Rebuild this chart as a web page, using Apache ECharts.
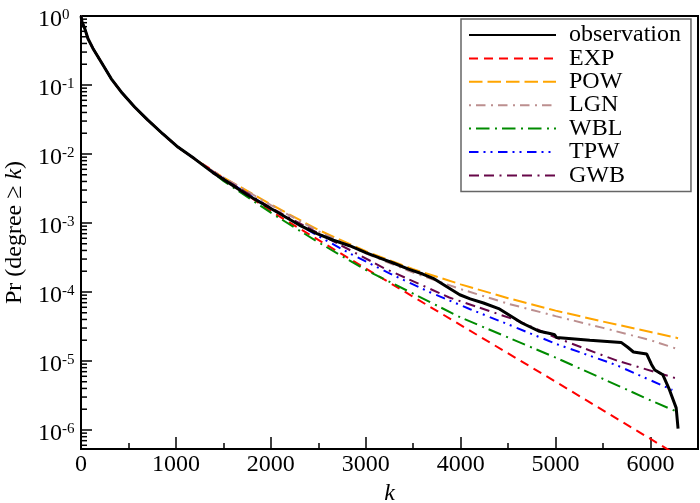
<!DOCTYPE html>
<html>
<head>
<meta charset="utf-8">
<script src="https://cdn.jsdelivr.net/npm/echarts@6/dist/echarts.min.js"></script>
<style>html,body{margin:0;padding:0;background:#fff;}#c{width:700px;height:503px;}</style>
</head>
<body>
<div id="c"></div>
<script>
// ---- data ----
const xTicks = [0, 1000, 2000, 3000, 4000, 5000, 6000];
const yTickExponents = [0, -1, -2, -3, -4, -5, -6];
const minorMultipliers = [2, 3, 4, 5, 6, 7, 8, 9];

// common head of observation and all fits (they coincide there)
const headK = [0,11,39,74,126,214,319,424,565,705,863,1021,1197];
const headP = [1,0.818,0.661,0.468,0.339,0.214,0.123,0.0794,0.0479,0.0309,0.0195,0.0126,0.00851];

const obsTailK = [1390,1570,1750,1950,2150,2300,2480,2660,2830,3000,3150,3290,3450,3600,3710,3850,3990,4100,4240,4400,4645,4830,4940,4990,5010,5360,5690,5760,5820,5960,6010,6045,6130,6200,6270,6290];
const obsTailP = [0.00537,0.00372,0.00257,0.00178,0.00123,9.33e-4,7.08e-4,5.62e-4,4.68e-4,3.72e-4,3.09e-4,2.63e-4,2.14e-4,1.82e-4,1.58e-4,1.20e-4,9.12e-5,7.94e-5,6.92e-5,5.75e-5,3.55e-5,2.69e-5,2.51e-5,2.40e-5,2.19e-5,2.00e-5,1.86e-5,1.58e-5,1.35e-5,1.26e-5,8.91e-6,7.41e-6,6.31e-6,3.80e-6,2.09e-6,1.05e-6];

const expK = [1400,1600,2000,3000,4000,5000,6000,6300];
const expP = [5.62e-3,3.55e-3,1.48e-3,2.19e-4,3.31e-5,5.01e-6,7.41e-7,4.17e-7];

const powK = [1400,2000,2500,3000,3500,4000,4500,5000,5500,6000,6290];
const powP = [5.50e-3,1.86e-3,7.94e-4,3.89e-4,2.14e-4,1.29e-4,8.13e-5,5.37e-5,3.72e-5,2.63e-5,2.14e-5];

const lgnK = [1400,2000,2500,3000,3500,4000,4500,5000,5500,6000,6290];
const lgnP = [5.50e-3,1.82e-3,7.59e-4,3.63e-4,1.91e-4,1.10e-4,6.76e-5,4.47e-5,3.02e-5,2.00e-5,1.48e-5];

const wblK = [1400,1500,2000,2500,3000,4000,5000,6000,6270];
const wblP = [5.25e-3,4.07e-3,1.41e-3,5.25e-4,2.09e-4,4.27e-5,1.12e-5,2.69e-6,1.86e-6];

const tpwK = [1400,2000,2500,2830,3250,3670,4100,4500,5000,5640,6230];
const tpwP = [5.37e-3,1.62e-3,6.46e-4,3.63e-4,1.86e-4,1.00e-4,5.62e-5,3.39e-5,1.78e-5,8.71e-6,3.80e-6];

const gwbK = [1400,2000,2500,3200,3880,4590,5000,5440,5640,6290];
const gwbP = [5.37e-3,1.66e-3,7.08e-4,2.19e-4,8.32e-5,3.89e-5,2.19e-5,1.29e-5,1.02e-5,5.50e-6];

// ---- build ----
const FONT = 'Liberation Serif';
const Y_MIN = 5.3e-7, Y_MAX = 1, X_MAX = 6500;
function withHead(ks, ps){ return headK.concat(ks).map((k, i) => [k, headP.concat(ps)[i]]); }

const minorVals = [];
for (let e = -7; e <= -1; e++) {
  minorMultipliers.forEach(m => { const v = m * Math.pow(10, e); if (v >= Y_MIN && v <= Y_MAX) minorVals.push([0, v]); });
}

function lineSeries(name, data, color, width, dash, z){
  return {
    type: 'line', name: name, data: data, symbol: 'none', showSymbol: false,
    smooth: false, clip: true, z: z,
    lineStyle: {color: color, width: width, type: dash},
    itemStyle: {color: color}, animation: false
  };
}

const chart = echarts.init(document.getElementById('c'), null, {renderer: 'canvas'});
chart.setOption({
  animation: false,
  backgroundColor: '#fff',
  grid: {left: 81, right: 2, top: 16, bottom: 54, containLabel: false, outerBoundsMode: 'none',
         show: true, borderColor: '#000', borderWidth: 2, backgroundColor: 'transparent'},
  legend: {
    data: ['observation','EXP','POW','LGN','WBL','TPW','GWB'],
    orient: 'vertical', left: 461, top: 19,
    padding: [4, 10, 4, 7],
    itemWidth: 87, itemHeight: 14, itemGap: -0.6,
    borderColor: '#666', borderWidth: 1.5, backgroundColor: '#fff',
    itemStyle: {opacity: 0},
    textStyle: {fontFamily: FONT, fontSize: 24, color: '#000', padding: [0,0,0,8]},
    selectedMode: false
  },
  xAxis: [{
    type: 'value', min: 0, max: X_MAX, interval: 1000,
    axisLine: {show: true, lineStyle: {color: '#000', width: 2}},
    axisTick: {show: true, inside: true, length: 12, lineStyle: {color: '#000', width: 1.5}},
    splitLine: {show: false},
    axisLabel: {show: true, margin: 4, fontFamily: FONT, fontSize: 24, color: '#000', showMaxLabel: false,
      formatter: v => xTicks.indexOf(v) >= 0 ? String(v) : ''},
    name: '{i|k}', nameLocation: 'middle', nameGap: 22,
    nameTextStyle: {rich: {i: {fontFamily: FONT, fontSize: 24, fontStyle: 'italic', color: '#000'}}}
  }, {
    type: 'value', min: 0, max: X_MAX, interval: 500, position: 'bottom',
    axisLine: {show: false}, axisLabel: {show: false}, splitLine: {show: false},
    axisTick: {show: true, inside: true, length: 6, lineStyle: {color: '#000', width: 1.5}}
  }],
  yAxis: {
    type: 'log', logBase: 10, min: Y_MIN, max: Y_MAX,
    axisLine: {show: true, lineStyle: {color: '#000', width: 2}},
    axisTick: {show: true, inside: true, length: 11, lineStyle: {color: '#000', width: 1.5}},
    splitLine: {show: false}, minorTick: {show: false},
    axisLabel: {
      show: true, align: 'left', margin: 43, padding: [7, 0, 0, 0],
      formatter: function(v){
        const e = Math.log10(v); const r = Math.round(e);
        if (Math.abs(e - r) > 1e-6 || yTickExponents.indexOf(r) < 0) return '';
        return '{b|10}{s|' + r + '}';
      },
      rich: {
        b: {fontFamily: FONT, fontSize: 24, lineHeight: 24, verticalAlign: 'bottom', color: '#000'},
        s: {fontFamily: FONT, fontSize: 15, lineHeight: 15, verticalAlign: 'top', color: '#000'}
      }
    },
    name: '{n|Pr (degree \u2265 }{i|k}{n|)}', nameLocation: 'middle', nameGap: 50,
    nameTextStyle: {rich: {
      n: {fontFamily: FONT, fontSize: 24, color: '#000'},
      i: {fontFamily: FONT, fontSize: 24, fontStyle: 'italic', color: '#000'}
    }}
  },
  series: [
    lineSeries('EXP', withHead(expK, expP), '#ff0000', 2, [9, 6], 3),
    lineSeries('POW', withHead(powK, powP), '#ffa500', 2, [13.5, 5], 3),
    lineSeries('LGN', withHead(lgnK, lgnP), '#bc8f8f', 2, [2, 5, 9.5, 5.5], 3),
    lineSeries('WBL', withHead(wblK, wblP), '#008b00', 2, [2, 5, 13.5, 5.5], 3),
    lineSeries('TPW', withHead(tpwK, tpwP), '#0000ff', 2, [9.5, 5, 2, 5, 2, 5.5], 3),
    lineSeries('GWB', withHead(gwbK, gwbP), '#670748', 2, [10, 5, 10, 5.5, 2, 5.5], 3),
    lineSeries('observation', withHead(obsTailK, obsTailP), '#000000', 3, 'solid', 4),
    {
      type: 'custom', name: 'minorTicks', data: minorVals, silent: true, z: 10, clip: false,
      encode: {x: 0, y: 1},
      renderItem: function(params, api){
        const p = api.coord([api.value(0), api.value(1)]);
        return {type: 'line', shape: {x1: p[0], y1: p[1], x2: p[0] + 6, y2: p[1]},
                style: {stroke: '#000', lineWidth: 1.5}};
      }
    }
  ]
});
</script>
</body>
</html>
